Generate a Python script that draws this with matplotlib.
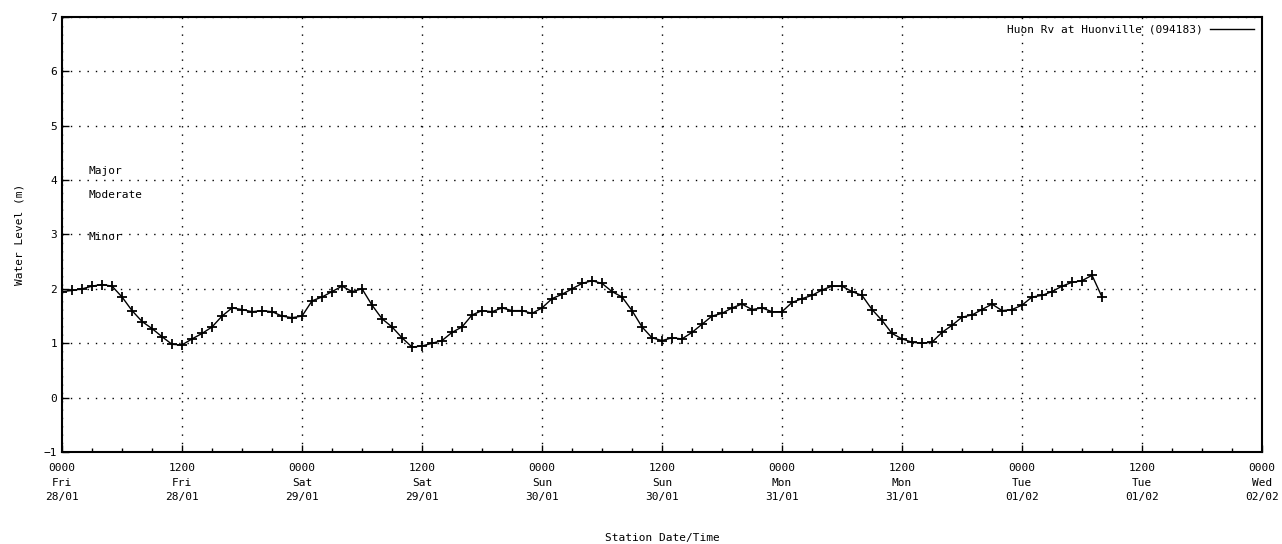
import numpy as np
import matplotlib.pyplot as plt

# hours since 0000 Fri 28/01, water level (m)
hours = list(range(0, 105))
level = [1.95, 1.97, 2.00, 2.05, 2.08, 2.05, 1.85, 1.60, 1.40, 1.27,
         1.12, 0.98, 0.97, 1.08, 1.18, 1.30, 1.50, 1.65, 1.62, 1.58,
         1.60, 1.58, 1.50, 1.47, 1.50, 1.78, 1.85, 1.95, 2.05, 1.95,
         2.00, 1.70, 1.45, 1.30, 1.10, 0.93, 0.95, 1.00, 1.05, 1.20,
         1.30, 1.52, 1.60, 1.58, 1.65, 1.60, 1.60, 1.55, 1.65, 1.82,
         1.90, 2.00, 2.10, 2.15, 2.10, 1.95, 1.85, 1.60, 1.30, 1.10,
         1.05, 1.10, 1.08, 1.20, 1.35, 1.50, 1.55, 1.65, 1.72, 1.62,
         1.65, 1.58, 1.58, 1.75, 1.82, 1.88, 1.98, 2.05, 2.05, 1.95,
         1.88, 1.62, 1.42, 1.18, 1.08, 1.02, 1.00, 1.02, 1.20, 1.33,
         1.48, 1.52, 1.62, 1.72, 1.60, 1.62, 1.70, 1.85, 1.88, 1.95,
         2.05, 2.12, 2.15, 2.25, 1.85]

tick_labels = ['0000\nFri\n28/01', '1200\nFri\n28/01', '0000\nSat\n29/01',
               '1200\nSat\n29/01', '0000\nSun\n30/01', '1200\nSun\n30/01',
               '0000\nMon\n31/01', '1200\nMon\n31/01', '0000\nTue\n01/02',
               '1200\nTue\n01/02', '0000\nWed\n02/02']

flood_names = ['Major', 'Moderate', 'Minor']
flood_y = [4.17, 3.73, 2.95]

plt.rcParams['font.family'] = 'DejaVu Sans Mono'
plt.rcParams['font.size'] = 8

fig = plt.figure(figsize=(12.82, 5.44), dpi=100)
ax = fig.add_axes([0.0484, 0.169, 0.936, 0.8])

ax.plot(hours, level, color='black', lw=1.0, marker='+', ms=7.5, mew=1.3,
        label='Huon Rv at Huonville (094183)')

ax.set_xlim(0, 120)
ax.set_ylim(-1, 7)
ax.set_xticks(np.arange(0, 121, 12))
ax.set_xticklabels(tick_labels, linespacing=1.55)
ax.set_xticks(np.arange(0, 121, 3), minor=True)
ax.set_yticks(range(-1, 8))
ax.tick_params(direction='in', length=5, width=1, top=False, right=False)
ax.tick_params(axis='x', which='major', pad=8)
ax.tick_params(which='minor', direction='in', length=3, width=1)
ax.grid(True, which='major', color='black', lw=1.0, ls=(0, (1, 5)))
for s in ax.spines.values():
    s.set_linewidth(1.5)

for name, y in zip(flood_names, flood_y):
    ax.text(2.6, y, name, va='center', ha='left')

ax.set_xlabel('Station Date/Time', labelpad=22)
ax.set_ylabel('Water Level (m)', labelpad=14)
ax.legend(loc='upper right', frameon=False, markerfirst=False,
          handlelength=4, borderaxespad=0.3, handletextpad=0.6)
leg = ax.get_legend()
for h in leg.legend_handles:
    h.set_marker('')

fig.savefig('out.png', dpi=100)
